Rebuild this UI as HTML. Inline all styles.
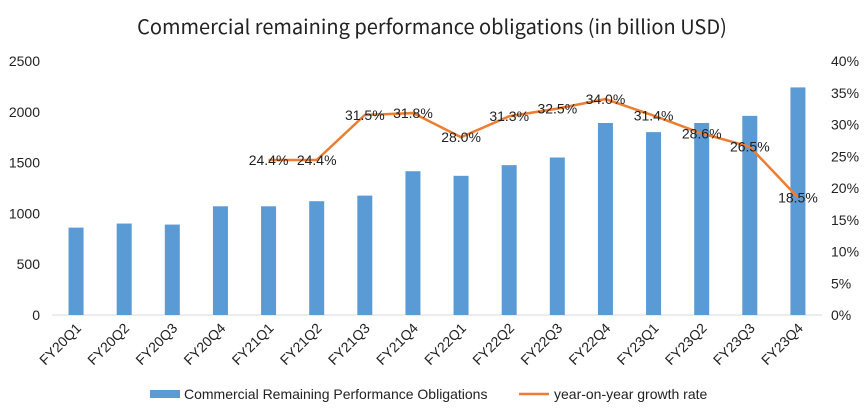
<!DOCTYPE html>
<html><head><meta charset="utf-8"><style>
body{margin:0;background:#fff;}
svg{display:block;font-family:"Liberation Sans",Arial,sans-serif;}
</style></head><body>
<svg id="c" width="865" height="417">
<text x="432" y="34" text-anchor="middle" font-size="20" fill="#222" style="font-family:'Noto Sans CJK SC','Liberation Sans',sans-serif">Commercial remaining performance obligations (in billion USD)</text>
<g id="g"></g>
<g>
<rect x="150" y="390" width="30" height="8" fill="#5b9bd5"></rect>
<text x="184" y="399" font-size="14" fill="#222">Commercial Remaining Performance Obligations</text>
<line x1="519" y1="394" x2="549" y2="394" stroke="#ed7d31" stroke-width="2.5"></line>
<text x="554" y="399" font-size="14" fill="#222">year-on-year growth rate</text>
</g>
</svg>
<script>
const categories=["FY20Q1","FY20Q2","FY20Q3","FY20Q4","FY21Q1","FY21Q2","FY21Q3","FY21Q4","FY22Q1","FY22Q2","FY22Q3","FY22Q4","FY23Q1","FY23Q2","FY23Q3","FY23Q4"];
const rpoValues=[860,900,890,1070,1070,1120,1175,1415,1370,1475,1550,1890,1800,1890,1960,2240];
const growthValues=[null,null,null,null,24.4,24.4,31.5,31.8,28.0,31.3,32.5,34.0,31.4,28.6,26.5,18.5];
const leftTicks=[0,500,1000,1500,2000,2500];
const rightTicks=[0,5,10,15,20,25,30,35,40];

const NS="http://www.w3.org/2000/svg";
const g=document.getElementById('g');
const L=52,R=822,T=61,B=315;
const bw=(R-L)/categories.length;
const xc=i=>L+bw*(i+0.5);
const yL=v=>B-v/2500*(B-T);
const yR=v=>B-v/40*(B-T);
function mk(t,a){const e=document.createElementNS(NS,t);for(const k in a)e.setAttribute(k,a[k]);g.appendChild(e);return e;}
let ax=mk('line',{x1:L,y1:B,x2:R,y2:B,stroke:'#d9d9d9'});


leftTicks.forEach(v=>{const t=mk('text',{x:40,y:yL(v)+5,'text-anchor':'end','font-size':14,fill:'#222'});t.textContent=v;

});
rightTicks.forEach(v=>{const t=mk('text',{x:831,y:yR(v)+5,'font-size':14,fill:'#222'});t.textContent=v+'%';

});
categories.forEach((c,i)=>{
 const r=mk('rect',{x:xc(i)-7.5,y:yL(rpoValues[i]),width:15,height:B-yL(rpoValues[i]),fill:'#5b9bd5'});
 
 
 const t=mk('text',{x:xc(i)+6,y:B+14,'text-anchor':'end','font-size':14,fill:'#222',transform:`rotate(-45 ${xc(i)+6} ${B+14})`});
 t.textContent=c;
 
 
});
let pts=[];growthValues.forEach((v,i)=>{if(v!==null)pts.push(xc(i)+','+yR(v));});
const pl=mk('polyline',{points:pts.join(' '),fill:'none',stroke:'#ed7d31','stroke-width':2.5});


growthValues.forEach((v,i)=>{if(v===null)return;
 const t=mk('text',{x:xc(i),y:yR(v)+5,'text-anchor':'middle','font-size':14,fill:'#222'});
 t.textContent=v.toFixed(1)+'%';
 
 
});
</script>
</body></html>
